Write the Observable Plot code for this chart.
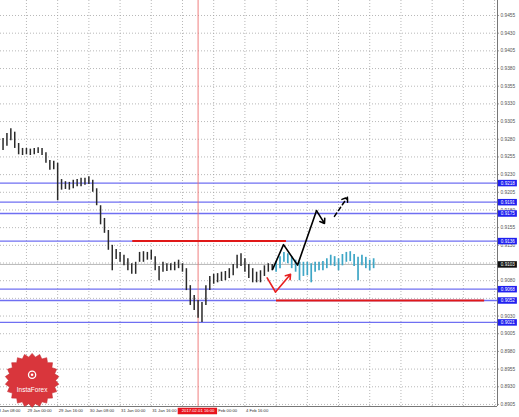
<!DOCTYPE html>
<html>
<head>
<meta charset="utf-8">
<script src="https://cdn.jsdelivr.net/npm/d3@7"></script>
<script src="https://cdn.jsdelivr.net/npm/@observablehq/plot@0.6"></script>
<style>
  html, body { margin: 0; padding: 0; background: #fff; }
  #chart { width: 519px; height: 417px; overflow: hidden; }
</style>
</head>
<body>
<div id="chart"></div>
<script>
// ---- Data (hours from 29 Jan 00:00, prices) ----
const barHours = [-12,-10,-8,-6,-4,-2,0,2,4,6,8,10,12,14,16,18,20,22,24,26,28,30,32,34,36,38,40,42,44,46,48,50,52,54,56,58,60,62,64,66,68,70,72,74,76,78,80,82,84,86,88,90,92,94,96,98,100,102,104,106,108,110,112,114,116,118,120,122,124,126];
const barHigh = [0.9281,0.9288,0.9295,0.9290,0.9274,0.9267,0.9267,0.9266,0.9267,0.9268,0.9267,0.9261,0.9250,0.9249,0.9246,0.9223,0.9220,0.9219,0.9222,0.9223,0.9225,0.9225,0.9227,0.9222,0.9210,0.9186,0.9168,0.9151,0.9130,0.9124,0.9120,0.9116,0.9111,0.9104,0.9106,0.9120,0.9121,0.9120,0.9123,0.9114,0.9100,0.9106,0.9104,0.9104,0.9106,0.9109,0.9104,0.9097,0.9073,0.9059,0.9052,0.9049,0.9073,0.9086,0.9089,0.9090,0.9092,0.9093,0.9097,0.9103,0.9116,0.9118,0.9111,0.9103,0.9097,0.9092,0.9094,0.9101,0.9104,0.9103];
const barLow  = [0.9264,0.9270,0.9278,0.9267,0.9258,0.9257,0.9258,0.9257,0.9258,0.9260,0.9257,0.9246,0.9236,0.9237,0.9193,0.9208,0.9209,0.9208,0.9210,0.9213,0.9213,0.9215,0.9216,0.9205,0.9186,0.9159,0.9147,0.9123,0.9094,0.9110,0.9106,0.9101,0.9094,0.9089,0.9089,0.9106,0.9106,0.9109,0.9109,0.9094,0.9080,0.9092,0.9093,0.9094,0.9094,0.9097,0.9092,0.9066,0.9045,0.9038,0.9027,0.9021,0.9045,0.9066,0.9075,0.9077,0.9079,0.9080,0.9083,0.9087,0.9097,0.9100,0.9092,0.9083,0.9077,0.9077,0.9077,0.9086,0.9092,0.9094];

const fcHours = [128,130,132,134,136,138,140,142,144,146,148,150,152,154,156,158,160,162,164,166,168,170,172,174,176,178];
const fcHigh  = [0.9106,0.9114,0.9120,0.9118,0.9114,0.9109,0.9106,0.9106,0.9106,0.9104,0.9106,0.9106,0.9107,0.9111,0.9116,0.9114,0.9111,0.9117,0.9120,0.9121,0.9117,0.9113,0.9116,0.9113,0.9109,0.9111];
const fcLow   = [0.9092,0.9097,0.9106,0.9104,0.9097,0.9092,0.9080,0.9086,0.9087,0.9077,0.9092,0.9094,0.9094,0.9097,0.9101,0.9100,0.9094,0.9101,0.9106,0.9107,0.9100,0.9080,0.9101,0.9097,0.9094,0.9097];

const blueLevels = [0.9218, 0.9191, 0.9175, 0.9136, 0.9068, 0.9052, 0.9021];
const redLevels = [0.9136, 0.9052];
const redStart  = [54.5, 128.2];
const redEnd    = [133.3, 234.9];
const currentPrice = 0.9103;

const zigHours  = [126.2, 131.8, 139.0, 148.7];
const zigPrices = [0.9096, 0.9131, 0.9102, 0.9179];
const zigHeadHour = 152.8, zigHeadPrice = 0.9161;
const dashFrom = [157.9, 0.9171], dashTo = [164.6, 0.9198];
const redVHours  = [123.4, 127.7];
const redVPrices = [0.9084, 0.9064];
const redVHead = [135.4, 0.9089];

const yTicks = [0.8905,0.8930,0.8955,0.8980,0.9005,0.9030,0.9055,0.9080,0.9105,0.9130,0.9155,0.9180,0.9205,0.9230,0.9255,0.9280,0.9305,0.9330,0.9355,0.9380,0.9405,0.9430,0.9455];
const xTickHours  = [-16, 0, 16, 32, 48, 64, 96, 112];
const xTickLabels = ["28 Jan 08:00","29 Jan 00:00","29 Jan 16:00","30 Jan 08:00","31 Jan 00:00","31 Jan 16:00","2 Feb 00:00","4 Feb 16:00"];
const gridHours = [-16,0,16,32,48,64,80,96,112,128,144,160,176,192,208,224,240];
const markerHour = 88, markerLabel = "2017.02.01 16:00";

// ---- build ----
const xMin = -13.3, xMax = 241.5, yMin = 0.89021, yMax = 0.94762;
const bars = barHours.map((h, i) => ({h, hi: barHigh[i], lo: barLow[i]}));
const fc = fcHours.map((h, i) => ({h, hi: fcHigh[i], lo: fcLow[i]}));
const reds = redLevels.map((p, i) => ({p, a: redStart[i], b: redEnd[i]}));
const zig = zigHours.map((h, i) => ({h, p: zigPrices[i]}));
const redV = redVHours.map((h, i) => ({h, p: redVPrices[i]}));
const xTicks = xTickHours.map((h, i) => ({h, label: xTickLabels[i]}));
const labX1 = xMax + 0.4, labX2 = xMax + 10.2, labXc = (labX1 + labX2) / 2;
const bottomLabelP = yMin - 4.5 / 7072;
const boxed = blueLevels.concat([currentPrice]);
const grayTicks = yTicks.filter(t => boxed.every(b => Math.abs(b - t) > 0.00035));

const seal = {
  draw(ctx, size) {
    const R = Math.sqrt(size / Math.PI), n = 22;
    for (let i = 0; i < 2 * n; i++) {
      const a = i * Math.PI / n, r = i % 2 ? R * 0.87 : R;
      const x = r * Math.sin(a), y = -r * Math.cos(a);
      if (i) ctx.lineTo(x, y); else ctx.moveTo(x, y);
    }
    ctx.closePath();
  }
};
const logo = [{h: 2.9, p: 0.8939}];

const chart = Plot.plot({
  width: 519, height: 417,
  marginLeft: 0, marginRight: 22, marginTop: 0, marginBottom: 11,
  x: {domain: [xMin, xMax], axis: null},
  y: {domain: [yMin, yMax], axis: null},
  style: {fontFamily: "'Liberation Sans', Arial, sans-serif", fontSize: "5px", background: "#fff", overflow: "hidden"},
  marks: [
    Plot.gridX({ticks: gridHours, stroke: "#9a9a9a", strokeOpacity: 0.7, strokeDasharray: "1,2"}),
    Plot.gridY({ticks: yTicks, stroke: "#9a9a9a", strokeOpacity: 0.7, strokeDasharray: "1,2"}),
    Plot.ruleY([currentPrice], {stroke: "#b8b8b8", strokeWidth: 1}),
    Plot.ruleY(blueLevels, {stroke: "#6f6ff2", strokeWidth: 1.3}),
    Plot.ruleX([markerHour], {stroke: "#ee7070", strokeWidth: 0.9}),
    Plot.ruleY(reds, {y: "p", x1: "a", x2: "b", stroke: "#e01818", strokeWidth: 2}),
    Plot.ruleX(bars, {x: "h", y1: "lo", y2: "hi", stroke: "#2a2a2a", strokeWidth: 1.5}),
    Plot.ruleX(fc, {x: "h", y1: "lo", y2: "hi", stroke: "#3ea6c6", strokeWidth: 1.7}),
    Plot.line(zig, {x: "h", y: "p", stroke: "#000", strokeWidth: 1.6}),
    Plot.arrow([{}], {x1: () => zigHours[3], y1: () => zigPrices[3], x2: () => zigHeadHour, y2: () => zigHeadPrice, stroke: "#000", strokeWidth: 1.6, headLength: 5, headAngle: 70}),
    Plot.arrow([{}], {x1: () => dashFrom[0], y1: () => dashFrom[1], x2: () => dashTo[0], y2: () => dashTo[1], stroke: "#000", strokeWidth: 1.5, strokeDasharray: "4,3", headLength: 6, headAngle: 70}),
    Plot.line(redV, {x: "h", y: "p", stroke: "#e82020", strokeWidth: 1.6}),
    Plot.arrow([{}], {x1: () => redVHours[1], y1: () => redVPrices[1], x2: () => redVHead[0], y2: () => redVHead[1], stroke: "#e82020", strokeWidth: 1.6, headLength: 5, headAngle: 70}),
    // frame lines
    Plot.ruleX([xMax], {stroke: "#777", strokeWidth: 1}),
    Plot.ruleY([yMin], {stroke: "#777", strokeWidth: 1}),
    // y axis labels
    Plot.ruleY(yTicks, {x1: () => xMax, x2: () => xMax + 0.9, stroke: "#777"}),
    Plot.text(grayTicks, {y: d => d, text: d => d.toFixed(4), frameAnchor: "right", dx: 3, textAnchor: "start", fontSize: 4.8, fill: "#555"}),
    // x axis labels
    Plot.text(xTicks, {x: "h", text: "label", frameAnchor: "bottom", dy: 5, dx: 1, textAnchor: "start", fontSize: 4.2, fill: "#333"}),
    // level labels
    Plot.ruleY(blueLevels, {x1: () => labX1, x2: () => labX2, stroke: "#2020f0", strokeWidth: 6.5}),
    Plot.text(blueLevels, {y: d => d, x: () => labXc, text: d => d.toFixed(4), fill: "#fff", fontSize: 4.6}),
    Plot.ruleY([currentPrice], {x1: () => labX1, x2: () => labX2, stroke: "#111", strokeWidth: 6.5}),
    Plot.text([currentPrice], {y: d => d, x: () => labXc, text: d => d.toFixed(4), fill: "#fff", fontSize: 4.6}),
    // time marker label
    Plot.ruleY([bottomLabelP], {x1: () => markerHour - 10.2, x2: () => markerHour + 10, stroke: "#e8141e", strokeWidth: 6.5}),
    Plot.text([markerLabel], {x: () => markerHour, y: () => bottomLabelP, text: d => d, fill: "#fff", fontSize: 4.2}),
    // logo
    Plot.dot(logo, {x: "h", y: "p", r: 27, symbol: seal, fill: "#d9363c", stroke: "#c42a30", strokeWidth: 0.6}),
    Plot.dot(logo, {x: "h", y: () => 0.8947, r: 3.6, fill: "none", stroke: "#fff", strokeWidth: 1.3}),
    Plot.dot(logo, {x: "h", y: () => 0.8947, r: 1.3, fill: "#fff"}),
    Plot.text(logo, {x: "h", y: () => 0.8926, text: () => "InstaForex", fill: "#fff", fontSize: 6.5})
  ]
});
document.getElementById("chart").appendChild(chart);
</script>
</body>
</html>
